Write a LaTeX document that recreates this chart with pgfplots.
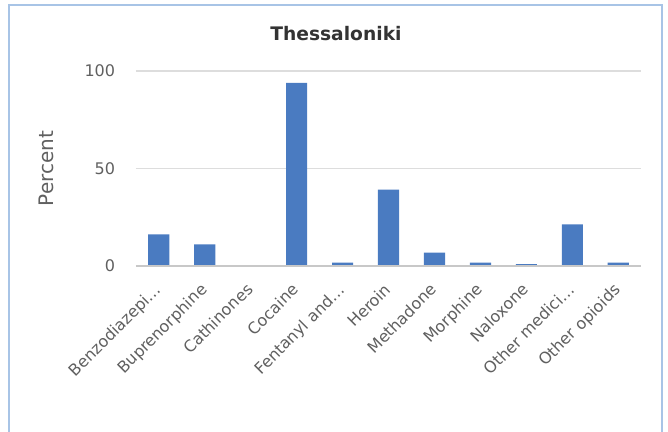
\documentclass[border=0pt]{standalone}
\usepackage{pgfplots}
\pgfplotsset{compat=1.18}
\usepackage{fontspec}
\setmainfont{DejaVu Sans}
\definecolor{barblue}{HTML}{4A7BC1}
\definecolor{gridgray}{HTML}{DDDDDD}
\definecolor{axisgray}{HTML}{C8C8C8}
\definecolor{txtgray}{HTML}{606060}
\definecolor{titlegray}{HTML}{333333}
\definecolor{framblue}{HTML}{A8C4E6}
\begin{document}
\begin{tikzpicture}[x=1pt,y=1pt]
\path[use as bounding box] (0,0) rectangle (501,324);
\draw[framblue, line width=1.5pt] (6.75,0) -- (6.75,320.25) -- (496.5,320.25) -- (496.5,0);
\begin{axis}[
  at={(101.85pt,124.5pt)}, anchor=south west,
  scale only axis, width=379.1pt, height=146.25pt,
  xmin=-0.5, xmax=10.5, ymin=0, ymax=100,
  ytick={0,50,100},
  xtick={0,1,2,3,4,5,6,7,8,9,10},
  xticklabels={Benzodiazepi\ldots,Buprenorphine,Cathinones,Cocaine,Fentanyl and\ldots,Heroin,Methadone,Morphine,Naloxone,Other medici\ldots,Other opioids},
  major tick length=0pt,
  axis line style={draw=none},
  axis x line*=bottom, axis y line*=left,
  ymajorgrids, grid style={gridgray, line width=0.8pt},
  /pgf/number format/assume math mode=true,
  yticklabel style={font=\fontsize{12}{14}\selectfont, text=txtgray, xshift=-12pt},
  xticklabel style={font=\fontsize{12}{14}\selectfont, text=txtgray, xshift=-4pt, yshift=-10.5pt, rotate=45, anchor=north east, inner sep=1pt},
  ylabel={Percent},
  ylabel style={font=\fontsize{15}{17}\selectfont, text=txtgray, at={(axis description cs:-0.176,0.5)}, anchor=center, rotate=0},
  title={Thessaloniki},
  title style={font=\bfseries\fontsize{14}{16}\selectfont, text=titlegray, at={(axis description cs:0.396,1.15)}, anchor=center},
  clip=false,
]
\addplot[ybar, bar width=0.46, fill=barblue, draw=none] coordinates {
(0,16.2) (1,11.1) (2,0) (3,93.9) (4,1.7) (5,39.2) (6,6.8) (7,1.7) (8,0.9) (9,21.3) (10,1.7)
};
\draw[axisgray, line width=0.8pt] (axis cs:-0.5,0) -- (axis cs:10.5,0);
\end{axis}
\end{tikzpicture}
\end{document}
